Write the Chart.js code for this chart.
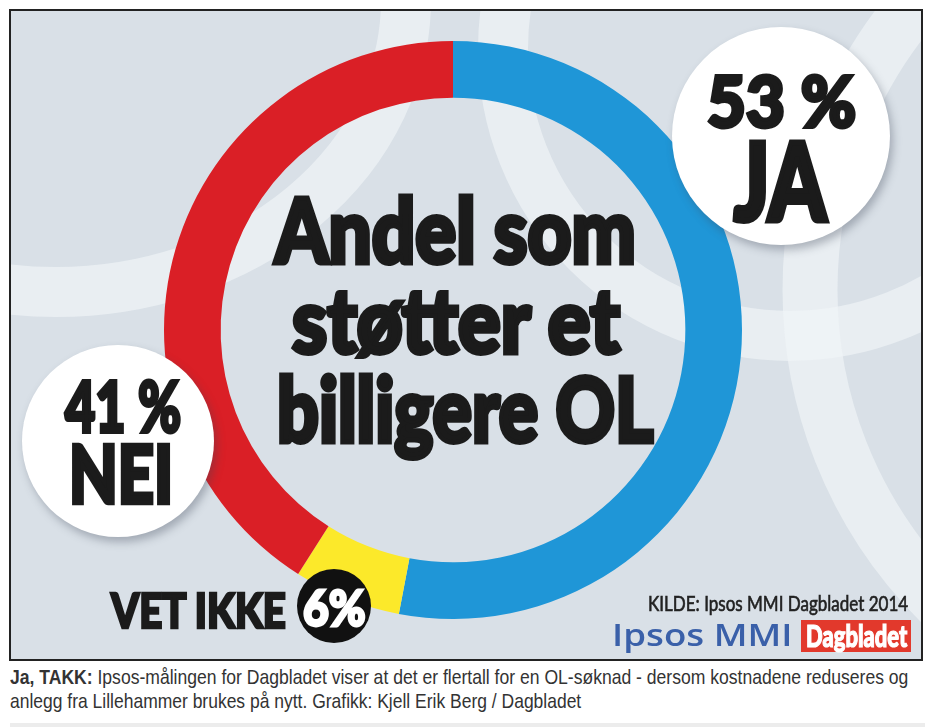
<!DOCTYPE html>
<html>
<head>
<meta charset="utf-8">
<script src="https://cdn.jsdelivr.net/npm/chart.js@4.4.1/dist/chart.umd.min.js"></script>
<style>
  html, body { margin: 0; padding: 0; background: #fff; }
  body { width: 927px; height: 727px; position: relative; overflow: hidden; }
  #box {
    position: absolute; left: 9px; top: 9px; width: 910px; height: 648px;
    border: 2px solid #222; background: #d9e0e7; overflow: hidden;
  }
  #box canvas { position: absolute; left: 0; top: 0; }
  .disc { position: absolute; border-radius: 50%; }
  .white { background: #fff; box-shadow: 3px 5px 9px rgba(60, 70, 85, 0.35); }
  .black { background: #111; }
  .t {
    position: absolute; white-space: nowrap; line-height: 1; transform-origin: 0 0;
    font-family: "Lato", "Roboto", "Liberation Sans", sans-serif; font-weight: 900; color: #1b1b1b;
  }
  .t i { display: inline-block; width: 0; height: 0; vertical-align: baseline; }
  #dbBox { position: absolute; left: 801px; top: 620px; width: 110px; height: 32px; background: #e2392c; }
  #bar { position: absolute; left: 10px; top: 723px; width: 915px; height: 4px; background: #ececec; }
</style>
</head>
<body>
<div id="box"><canvas id="ring" width="910" height="648"></canvas></div>
<div class="disc white" id="jaDisc"></div>
<div class="disc white" id="neiDisc"></div>
<div class="disc black" id="vetDisc"></div>
<div id="dbBox"></div>
<div id="bar"></div>

<script>
// survey result (percent)
const categories = ['JA', 'VET IKKE', 'NEI'];
const values = [53, 6, 41];
const colors = ['#1f96d7', '#fce92a', '#da1f26'];

const title = ['Andel som', 'støtter et', 'billigere OL'];
const source = 'KILDE: Ipsos MMI Dagbladet 2014';
const captionLead = 'Ja, TAKK:';
const captionLines = [
  ' Ipsos-målingen for Dagbladet viser at det er flertall for en OL-søknad - dersom kostnadene reduseres og',
  'anlegg fra Lillehammer brukes på nytt. Grafikk: Kjell Erik Berg / Dagbladet'
];

// faint olympic-ring arcs behind the doughnut
const ringBackdrop = {
  id: 'ringBackdrop',
  beforeDatasetsDraw(chart) {
    const ctx = chart.ctx;
    ctx.save();
    ctx.strokeStyle = 'rgba(240, 243, 246, 0.7)';
    ctx.lineWidth = 50;
    ctx.beginPath();
    ctx.ellipse(45, -11, 350, 292, 0, 0, Math.PI * 2);
    ctx.stroke();
    ctx.beginPath();
    ctx.arc(779, 38, 287, 0, Math.PI * 2);
    ctx.stroke();
    ctx.lineWidth = 55;
    ctx.beginPath();
    ctx.arc(1239, 279, 440, 0, Math.PI * 2);
    ctx.stroke();
    ctx.restore();
  }
};

new Chart(document.getElementById('ring'), {
  type: 'doughnut',
  data: {
    labels: categories,
    datasets: [{
      data: values,
      backgroundColor: colors,
      borderWidth: 0
    }]
  },
  options: {
    responsive: false,
    animation: false,
    cutout: '80.4%',
    layout: { padding: { left: 153, right: 179, top: 30, bottom: 40 } },
    plugins: {
      legend: { display: false },
      tooltip: { enabled: false }
    }
  },
  plugins: [ringBackdrop]
});

function disc(id, cx, cy, r) {
  const d = document.getElementById(id);
  d.style.left = (cx - r) + 'px';
  d.style.top = (cy - r) + 'px';
  d.style.width = d.style.height = (2 * r) + 'px';
}
disc('jaDisc', 781, 136, 109);
disc('neiDisc', 118, 441, 96);
disc('vetDisc', 334, 606, 37);

// place a text so its left/right edges and cap top/baseline hit the given page coords
function label(html, x0, x1, capTop, base, opts = {}) {
  const el = document.createElement('div');
  el.className = 't';
  el.innerHTML = html + '<i></i>';
  if (opts.family) el.style.fontFamily = opts.family;
  if (opts.weight) el.style.fontWeight = opts.weight;
  if (opts.color) el.style.color = opts.color;
  const heavy = opts.heavy === undefined ? 0.055 : opts.heavy;
  const fs = (base - capTop) / (opts.cap || 0.72) - heavy * 20;
  el.style.fontSize = fs + 'px';
  if (heavy) el.style.webkitTextStroke = (heavy * fs) + 'px';
  document.body.appendChild(el);
  const b = el.querySelector('i').offsetTop;
  el.style.left = x0 + 'px';
  el.style.top = (base - b) + 'px';
  el.style.transform = 'scaleX(' + ((x1 - x0) / el.offsetWidth) + ')';
}

function layout() {
  label(title[0], 275, 636, 198, 263);
  label(title[1], 292, 620, 288, 353);
  label(title[2], 277, 653, 377, 442);

  label(values[0] + ' %', 707, 856, 75, 127);
  label(categories[0], 734, 826, 143, 220);
  label(values[2] + ' %', 65, 181, 380, 432);
  label(categories[2], 69, 173, 445, 503);
  label(categories[1], 111, 286, 593, 628);
  label(values[1] + '%', 303, 366, 589, 626, { color: '#fff' });

  label(source, 648, 908, 596, 611, { weight: 400, color: '#222', heavy: 0.03 });
  label('Ipsos MMI', 612, 793, 624, 646, { family: '"Open Sans", "Noto Sans", sans-serif', weight: 600, color: '#3a60a9', cap: 0.714, heavy: 0 });
  label('Dagbladet', 806, 907, 624, 647, { color: '#fff', heavy: 0.04 });

  const capFont = { family: '"Liberation Sans", Arial, sans-serif', weight: 400, color: '#333', cap: 0.716, heavy: 0 };
  label('<b>' + captionLead + '</b>' + captionLines[0], 10, 908, 669, 684, capFont);
  label(captionLines[1], 10, 581, 693, 708, capFont);
}
document.fonts.ready.then(layout);
</script>
</body>
</html>
